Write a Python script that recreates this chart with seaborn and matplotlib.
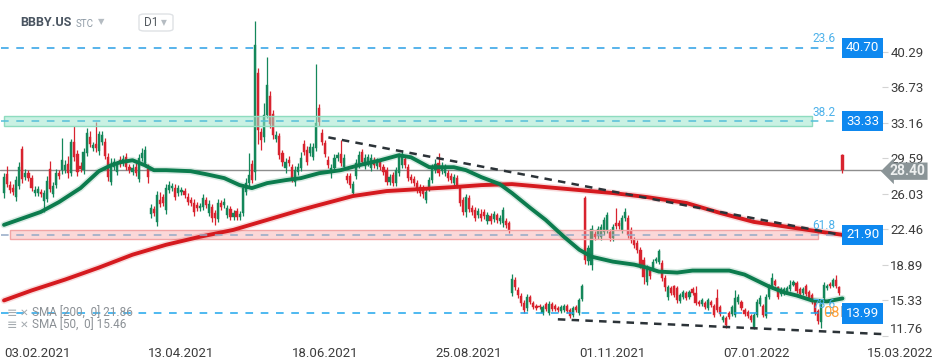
import numpy as np
import pandas as pd
import matplotlib
matplotlib.use('Agg')
import matplotlib.pyplot as plt
from matplotlib.patches import Rectangle, FancyBboxPatch
from matplotlib.transforms import blended_transform_factory
import seaborn as sns

# daily candles BBBY.US, 03.02.2021 -> 07.03.2022
opens = [
    26.1, 28.0, 26.9, 26.6, 25.7, 26.8, 30.5, 27.7, 28.1, 27.6,
    26.1, 26.1, 26.2, 25.3, 25.5, 28.5, 26.0, 26.9, 28.1, 28.4,
    28.4, 29.0, 28.1, 31.2, 30.0, 28.8, 28.4, 30.1, 31.7, 30.6,
    31.0, 30.3, 31.2, 31.2, 29.7, 27.2, 28.7, 28.2, 29.4, 29.1,
    29.7, 28.7, 28.2, 28.7, 27.5, 29.6, 29.1, 28.5, 24.0, 24.5,
    23.2, 25.4, 25.7, 24.4, 26.4, 26.6, 26.6, 26.1, 26.2, 26.3,
    25.7, 25.4, 25.1, 24.9, 24.6, 24.7, 25.4, 24.1, 24.7, 24.1,
    23.5, 25.1, 24.9, 23.9, 24.5, 23.7, 24.3, 23.7, 24.1, 26.2,
    27.1, 29.0, 28.2, 38.2, 32.2, 31.7, 34.0, 35.9, 34.1, 31.5,
    31.8, 30.1, 28.6, 29.4, 28.7, 27.2, 28.2, 28.6, 31.0, 30.4,
    30.1, 29.7, 30.6, 34.7, 32.1, 31.1, 29.4, 28.1, 28.6, 29.6,
    30.0, 28.7, 27.8, 27.8, 26.1, 27.8, 28.9, 30.2, 28.8, 29.1,
    28.6, 29.4, 28.8, 29.2, 28.7, 28.4, 27.2, 27.9, 27.1, 28.1,
    28.9, 29.5, 28.7, 27.7, 27.5, 27.1, 26.7, 26.6, 25.4, 26.6,
    27.4, 28.4, 29.1, 28.3, 28.1, 28.1, 27.8, 27.1, 27.6, 26.6,
    25.4, 24.2, 25.6, 24.6, 24.4, 23.9, 24.0, 24.2, 23.3, 23.8,
    23.5, 23.9, 23.3, 23.1, 23.3, 23.1, 16.0, 17.4, 16.3, 15.7,
    15.0, 14.5, 15.6, 15.0, 14.7, 14.7, 14.0, 14.9, 14.0, 14.9,
    14.7, 14.5, 14.2, 14.3, 14.7, 14.3, 13.8, 14.6, 14.0, 15.4,
    25.6, 19.3, 18.9, 22.0, 21.8, 21.7, 22.2, 22.4, 22.2, 21.6,
    23.1, 23.1, 22.4, 23.6, 23.6, 22.4, 21.4, 21.1, 20.4, 19.4,
    17.2, 18.4, 18.6, 19.3, 19.2, 19.1, 17.6, 15.6, 16.5, 16.7,
    16.5, 15.2, 15.6, 16.0, 15.6, 16.4, 16.0, 15.1, 14.9, 15.0,
    14.5, 15.1, 14.7, 15.5, 14.6, 13.3, 13.5, 14.0, 13.9, 13.8,
    15.1, 15.1, 14.3, 14.1, 13.7, 12.6, 13.8, 14.9, 14.7, 13.7,
    15.6, 16.6, 17.3, 16.6, 15.9, 16.0, 16.1, 16.4, 16.9, 17.1,
    16.4, 16.0, 16.7, 16.1, 15.8, 15.1, 14.2, 13.1, 15.5, 16.5,
    17.0, 16.8, 17.4, 16.6, 29.9,
]
closes = [
    27.7, 27.0, 26.4, 26.2, 27.4, 28.7, 27.5, 28.1, 27.6, 26.6,
    26.4, 26.5, 26.0, 26.1, 27.3, 26.5, 26.8, 28.1, 27.8, 29.4,
    28.9, 28.1, 31.2, 29.7, 28.2, 28.5, 30.2, 32.1, 31.0, 30.9,
    30.6, 32.0, 31.9, 29.8, 27.7, 28.9, 29.2, 28.9, 29.0, 29.5,
    28.7, 28.4, 28.6, 28.1, 29.6, 30.1, 30.4, 27.7, 24.6, 24.1,
    25.9, 25.0, 25.1, 26.6, 26.9, 26.8, 25.7, 26.6, 26.4, 25.9,
    25.2, 25.1, 24.2, 24.6, 24.8, 25.6, 24.9, 25.0, 23.6, 23.6,
    25.1, 24.7, 25.2, 24.6, 23.7, 24.1, 23.7, 24.0, 26.6, 27.1,
    27.9, 27.4, 41.0, 32.4, 31.4, 34.0, 37.0, 33.0, 31.9, 31.9,
    29.9, 29.2, 29.2, 29.1, 27.6, 28.4, 28.7, 29.6, 30.2, 29.2,
    30.7, 30.7, 33.1, 33.2, 31.2, 30.0, 28.9, 28.6, 29.6, 29.9,
    29.1, 29.6, 27.4, 26.9, 27.0, 29.1, 29.9, 29.2, 29.6, 29.7,
    29.6, 28.9, 29.3, 28.7, 28.2, 27.2, 27.7, 27.1, 28.4, 29.7,
    30.0, 28.9, 27.6, 27.4, 27.1, 26.4, 26.1, 26.0, 26.2, 27.4,
    28.7, 29.0, 28.1, 28.8, 28.6, 27.6, 27.4, 27.7, 26.9, 25.1,
    24.2, 25.7, 24.5, 24.2, 23.6, 24.3, 23.6, 23.8, 23.9, 23.3,
    24.0, 23.4, 23.6, 24.4, 22.9, 22.4, 17.5, 16.6, 15.8, 15.0,
    14.3, 15.6, 15.1, 14.6, 14.5, 14.6, 14.6, 14.4, 14.9, 14.4,
    14.4, 14.3, 14.6, 14.7, 14.2, 13.7, 14.5, 14.3, 15.3, 16.7,
    19.4, 20.6, 22.5, 21.7, 22.5, 22.7, 23.4, 23.9, 21.6, 22.7,
    22.8, 22.8, 23.6, 24.2, 21.9, 21.4, 20.9, 20.4, 18.9, 17.7,
    18.6, 17.8, 19.2, 19.5, 20.3, 17.6, 16.6, 16.6, 16.0, 15.8,
    15.3, 15.8, 16.1, 15.5, 16.1, 16.0, 15.0, 14.9, 15.3, 14.6,
    15.3, 14.8, 13.8, 14.3, 13.9, 13.6, 12.8, 13.6, 14.6, 15.5,
    15.6, 14.5, 13.9, 13.7, 13.3, 13.8, 15.1, 15.5, 13.8, 15.6,
    16.7, 17.6, 16.9, 15.6, 16.4, 16.4, 16.5, 16.9, 17.2, 16.2,
    15.9, 16.4, 15.9, 15.5, 15.1, 14.0, 13.2, 15.1, 16.9, 16.8,
    16.7, 17.4, 16.7, 16.0, 28.4,
]
highs = [
    28.1, 28.8, 27.3, 27.0, 27.8, 29.2, 30.8, 28.5, 28.4, 27.9,
    26.8, 26.8, 26.5, 26.4, 27.8, 29.3, 27.2, 28.5, 28.4, 31.6,
    29.4, 29.8, 31.5, 32.8, 30.4, 29.2, 30.6, 32.6, 32.3, 31.2,
    33.2, 32.3, 32.3, 31.6, 30.1, 29.6, 29.6, 29.3, 29.8, 29.9,
    30.1, 29.0, 29.0, 29.1, 30.0, 30.6, 30.8, 29.0, 25.0, 24.8,
    26.3, 26.2, 26.0, 27.0, 27.3, 27.1, 27.0, 26.9, 26.7, 26.6,
    26.1, 25.7, 25.5, 25.2, 25.1, 26.0, 25.7, 25.4, 25.0, 24.4,
    25.5, 25.4, 25.6, 24.9, 24.8, 24.4, 24.6, 24.3, 27.0, 27.6,
    30.1, 29.4, 43.4, 38.7, 32.6, 35.2, 39.8, 36.4, 34.5, 32.3,
    32.1, 30.4, 29.6, 29.8, 29.0, 28.8, 29.1, 30.2, 31.4, 30.8,
    31.1, 31.1, 39.1, 35.1, 32.5, 31.4, 29.8, 29.0, 30.0, 30.2,
    31.4, 30.0, 28.1, 28.1, 27.3, 29.5, 30.3, 30.5, 30.0, 30.0,
    30.0, 29.7, 29.6, 29.5, 29.0, 28.7, 28.0, 28.2, 28.7, 30.1,
    30.4, 29.8, 29.0, 28.0, 27.8, 27.4, 27.0, 26.9, 26.5, 27.7,
    29.0, 29.5, 30.1, 29.2, 29.0, 28.4, 28.1, 28.0, 27.9, 26.9,
    25.7, 26.0, 25.9, 24.9, 24.7, 24.6, 24.5, 24.5, 24.2, 24.1,
    24.3, 24.1, 23.9, 24.7, 23.6, 23.3, 18.0, 17.7, 16.6, 16.0,
    15.3, 15.9, 15.8, 15.2, 14.9, 14.9, 14.8, 15.1, 15.2, 15.1,
    14.9, 14.7, 14.8, 14.9, 14.9, 14.5, 14.7, 14.8, 15.5, 17.0,
    25.8, 20.9, 22.9, 22.3, 22.8, 23.0, 23.7, 24.2, 22.5, 23.0,
    24.6, 23.4, 23.9, 24.6, 23.9, 22.7, 21.7, 21.4, 20.7, 19.7,
    18.9, 18.7, 19.5, 19.7, 20.5, 19.4, 17.9, 16.9, 16.7, 16.9,
    16.7, 16.0, 16.3, 16.2, 16.3, 16.6, 16.7, 15.3, 15.5, 15.2,
    15.5, 15.3, 14.9, 16.4, 14.8, 13.8, 13.7, 14.2, 14.8, 16.3,
    15.9, 15.3, 14.5, 14.3, 13.9, 14.0, 15.4, 15.8, 14.9, 15.9,
    17.0, 18.1, 17.5, 16.8, 16.6, 16.6, 16.7, 17.4, 17.4, 17.3,
    16.6, 16.6, 17.0, 16.3, 16.0, 15.3, 14.4, 15.4, 17.2, 17.0,
    17.2, 17.6, 17.9, 16.8, 30.0,
]
lows = [
    25.6, 26.7, 26.1, 25.9, 25.3, 26.5, 27.1, 27.4, 27.3, 26.3,
    25.8, 25.8, 25.7, 24.2, 25.2, 26.2, 25.7, 26.6, 27.5, 28.0,
    28.1, 27.6, 27.8, 29.3, 27.8, 28.2, 28.0, 29.8, 30.7, 30.3,
    30.2, 29.9, 30.9, 29.5, 27.3, 26.9, 28.4, 27.9, 28.7, 28.8,
    28.4, 28.1, 27.9, 27.8, 27.2, 29.3, 28.8, 27.1, 23.6, 23.8,
    22.8, 24.7, 24.8, 24.0, 26.1, 26.3, 25.4, 25.8, 25.9, 25.6,
    24.9, 24.8, 23.8, 24.3, 24.3, 24.4, 24.6, 23.8, 23.2, 22.9,
    23.2, 24.4, 24.6, 23.6, 23.4, 23.4, 23.4, 23.4, 23.8, 25.9,
    26.8, 27.1, 27.4, 31.0, 30.4, 31.2, 33.6, 32.6, 31.5, 31.2,
    29.5, 28.8, 28.1, 28.8, 27.2, 26.8, 27.9, 28.3, 29.9, 28.9,
    29.8, 29.4, 30.3, 32.8, 30.9, 29.7, 28.6, 27.6, 28.3, 29.3,
    28.8, 28.4, 27.1, 26.6, 25.8, 27.5, 28.6, 28.9, 28.5, 28.8,
    28.3, 28.6, 28.5, 28.4, 27.9, 26.9, 26.9, 26.8, 26.8, 27.8,
    28.6, 28.6, 27.3, 27.1, 26.8, 26.1, 25.8, 25.6, 25.1, 26.3,
    27.1, 28.1, 27.8, 28.0, 27.8, 27.3, 27.1, 26.8, 26.6, 24.8,
    23.9, 23.7, 24.2, 23.9, 23.3, 23.6, 23.3, 23.5, 23.0, 23.0,
    23.2, 23.1, 23.0, 22.7, 22.6, 22.1, 15.7, 16.3, 15.5, 14.7,
    14.0, 14.2, 14.9, 14.4, 14.3, 14.4, 13.8, 14.2, 13.8, 14.2,
    14.2, 14.1, 14.0, 14.1, 14.0, 13.5, 13.6, 14.1, 13.8, 15.2,
    19.0, 18.9, 18.4, 21.4, 21.5, 21.4, 21.9, 22.1, 21.3, 21.3,
    22.5, 22.5, 22.1, 23.3, 21.6, 21.1, 20.6, 20.1, 18.6, 17.0,
    16.9, 17.5, 18.3, 19.1, 19.0, 17.3, 16.2, 15.3, 15.8, 15.6,
    15.0, 15.0, 15.4, 15.3, 15.4, 15.8, 14.8, 14.7, 14.7, 14.4,
    14.3, 14.6, 13.6, 14.1, 13.7, 13.1, 12.5, 13.4, 13.7, 13.6,
    14.9, 14.3, 13.7, 13.5, 13.1, 12.4, 13.6, 14.7, 13.6, 13.5,
    15.4, 16.4, 16.7, 15.4, 15.7, 15.8, 15.9, 16.2, 16.7, 16.0,
    15.7, 15.8, 15.7, 15.3, 14.9, 13.8, 12.9, 12.5, 15.3, 16.3,
    16.5, 16.6, 16.5, 15.8, 28.1,
]

# moving averages (at sample bars)
sma50_idx = [0, 12, 18, 25, 31, 35, 38, 42, 46, 49, 53, 61, 66, 72, 77, 81, 86,
             92, 97, 103, 110, 116, 123, 129, 133, 136, 139, 142, 147, 151, 156,
             162, 166, 172, 177, 183, 188, 192, 199, 206, 210, 214, 220, 225,
             237, 242, 246, 250, 255, 259, 264, 269, 274]
sma50_vals = [22.9, 24.2, 25.2, 26.6, 28.3, 28.9, 29.2, 29.4, 28.9, 28.4, 28.4,
              28.3, 28.0, 27.6, 26.9, 26.6, 27.1, 27.4, 27.6, 28.1, 28.4, 28.9,
              29.4, 29.9, 29.7, 29.2, 28.7, 28.7, 28.7, 28.4, 27.7, 27.0, 26.1,
              24.6, 23.4, 21.7, 20.4, 19.7, 19.2, 18.9, 18.6, 18.2, 18.1, 18.3,
              18.3, 17.9, 17.3, 16.7, 16.1, 15.8, 15.3, 15.2, 15.5]
sma200_idx = [0, 9, 20, 31, 42, 53, 64, 75, 86, 97, 103, 114, 125, 136, 147, 156,
              166, 177, 188, 199, 210, 223, 234, 245, 256, 267, 274]
sma200_vals = [15.3, 16.3, 17.4, 18.6, 19.9, 20.9, 21.7, 22.4, 23.4, 24.4, 24.9,
               25.8, 26.3, 26.5, 26.7, 26.9, 27.0, 26.7, 26.4, 26.1, 25.7, 25.1,
               24.1, 23.2, 22.7, 22.2, 21.9]

date_ticks = [0, 47, 94, 141, 188, 235, 282]
date_labels = ['03.02.2021', '13.04.2021', '18.06.2021', '25.08.2021',
               '01.11.2021', '07.01.2022', '15.03.2022']
price_ticks = [40.29, 36.73, 33.16, 29.59, 26.03, 22.46, 18.89, 15.33, 11.76]

fib_levels = [40.70, 33.33, 21.90, 13.99]
fib_names = ['23.6', '38.2', '61.8', '78.6']
fib_colors = ['#2a9fe6', '#55bfd9', '#95aac6', '#1ea5ec']
green_zone = [32.85, 33.85]
red_zone = [21.45, 22.40]
last_price = 28.40
upper_trend_x, upper_trend_y = [106, 287], [31.7, 21.1]
lower_trend_x, lower_trend_y = [181, 288], [13.4, 11.9]

sns.set_style('white')
plt.rcParams['font.family'] = ['Roboto', 'DejaVu Sans']

df = pd.DataFrame({'open': opens, 'high': highs, 'low': lows, 'close': closes})
df['x'] = np.arange(len(df))
colors = np.where(df['close'] >= df['open'], '#14875a', '#d8232f')

fig = plt.figure(figsize=(9.5, 3.6), dpi=100)
ax = fig.add_axes([0, 23 / 360, 882 / 950, 337 / 360])

# candles
ax.vlines(df['x'], df['low'], df['high'], colors=colors, lw=0.9, zorder=2)
body = (df['close'] - df['open']).abs().clip(lower=0.1)
ax.bar(df['x'], body, bottom=df[['open', 'close']].min(axis=1), width=0.7,
       color=colors, edgecolor=colors, lw=0.3, zorder=3)

# zones
ax.add_patch(Rectangle((0, green_zone[0]), 264, green_zone[1] - green_zone[0],
                       fc=(0.62, 0.9, 0.8, 0.55), ec='#8edcbf', lw=1, zorder=4))
ax.add_patch(Rectangle((2, red_zone[0]), 264, red_zone[1] - red_zone[0],
                       fc=(0.96, 0.62, 0.62, 0.4), ec='#f2a5a5', lw=1, zorder=4))

# moving averages
sns.lineplot(x=sma200_idx, y=sma200_vals, color='#d51a1f', lw=5, alpha=0.15, ax=ax, zorder=5)
sns.lineplot(x=sma200_idx, y=sma200_vals, color='#d51a1f', lw=2.8, ax=ax, zorder=5)
sns.lineplot(x=sma50_idx, y=sma50_vals, color='#0c7c4e', lw=5, alpha=0.15, ax=ax, zorder=5)
sns.lineplot(x=sma50_idx, y=sma50_vals, color='#0c7c4e', lw=2.8, ax=ax, zorder=5)

# fibonacci levels
for lvl, name, c in zip(fib_levels, fib_names, fib_colors):
    ax.plot([-1, 273.5], [lvl, lvl], color=c, lw=1.1, ls=(0, (5, 5)), zorder=6)
    ax.text(268, lvl + 0.25, name, color='#4cb1ea', fontsize=8.5,
            ha='center', va='bottom', zorder=7)
    ax.text(280.6, lvl, f'{lvl:.2f}', color='white', fontsize=9.5, ha='center',
            va='center', zorder=8,
            bbox=dict(boxstyle='square,pad=0.28', fc='#0e88ef', ec='none'))
ax.text(270.5, fib_levels[3], '08', color='#ff9f37', fontsize=10.5,
        ha='center', va='center', zorder=7)
ax.text(274.5, fib_levels[3], 'h', color='#b9b9b9', fontsize=10.5,
        ha='center', va='center', zorder=7)

# trend lines
ax.plot(upper_trend_x, upper_trend_y, color='#2c3338', lw=1.8, ls=(0, (3, 2.5)), zorder=6)
ax.plot(lower_trend_x, lower_trend_y, color='#2c3338', lw=1.8, ls=(0, (3, 2.5)), zorder=6)

# last price
ax.axhline(last_price, color='#8e8e8e', lw=1, zorder=1)
tr = blended_transform_factory(fig.transFigure, ax.transData)
ax.text(890 / 950, last_price - 0.1, f'{last_price:.2f}', transform=tr, color='#eef0f0',
        fontsize=10, fontweight='bold', ha='left', va='center', clip_on=False,
        zorder=9, bbox=dict(boxstyle='larrow,pad=0.12', fc='#8a9497', ec='none'))

# axes
ax.set_xlim(-4 / 3.06, 878 / 3.06)
ax.set_ylim(11.62, 45.52)
for s in ax.spines.values():
    s.set_visible(False)
ax.yaxis.tick_right()
ax.set_yticks(price_ticks)
ax.set_yticklabels([f'{v:.2f}' for v in price_ticks])
ax.get_yticklabels()[-1].set_va('bottom')
ax.tick_params(axis='y', length=4, color='#d3d3d3', labelcolor='#3c3c3c',
               labelsize=9.5, pad=2)
ax.set_xticks(date_ticks)
ax.set_xticklabels(date_labels, ha='left')
ax.tick_params(axis='x', length=3, color='#d3d3d3', labelcolor='#3c3c3c',
               labelsize=9.5, pad=4)
ax.grid(False)

# header
fig.text(20 / 950, 1 - 22 / 360, 'BBBY.US', fontsize=9, fontweight='bold',
         color='#4a5561', va='center')
fig.text(76 / 950, 1 - 24 / 360, 'STC', fontsize=7, color='#8f9ba6', va='center')
fig.text(98 / 950, 1 - 22 / 360, '▼', fontsize=6, color='#b5bcc2', va='center')
fig.patches.append(FancyBboxPatch((139 / 950, 1 - 31 / 360), 34 / 950, 17 / 360,
                                  boxstyle='round,pad=0,rounding_size=0.006',
                                  transform=fig.transFigure, fc='white',
                                  ec='#dfe2e5', lw=1))
fig.text(144 / 950, 1 - 22.5 / 360, 'D1', fontsize=8.5, color='#555b61', va='center')
fig.text(161 / 950, 1 - 22.5 / 360, '▼', fontsize=5.5, color='#b5bcc2', va='center')

# indicator legend
legend_rows = ['SMA [200,  0] 21.86', 'SMA [50,  0] 15.46']
for k, row in enumerate(legend_rows):
    yy = 1 - (313 + 12 * k) / 360
    fig.text(7 / 950, yy, '≡', fontsize=9, color='#a4aaaf', va='center')
    fig.text(20 / 950, yy, '✕', fontsize=7.5, color='#a4aaaf', va='center')
    fig.text(32 / 950, yy, row, fontsize=8.5, color='#8c9196', va='center')

fig.savefig('out.png', dpi=100)
